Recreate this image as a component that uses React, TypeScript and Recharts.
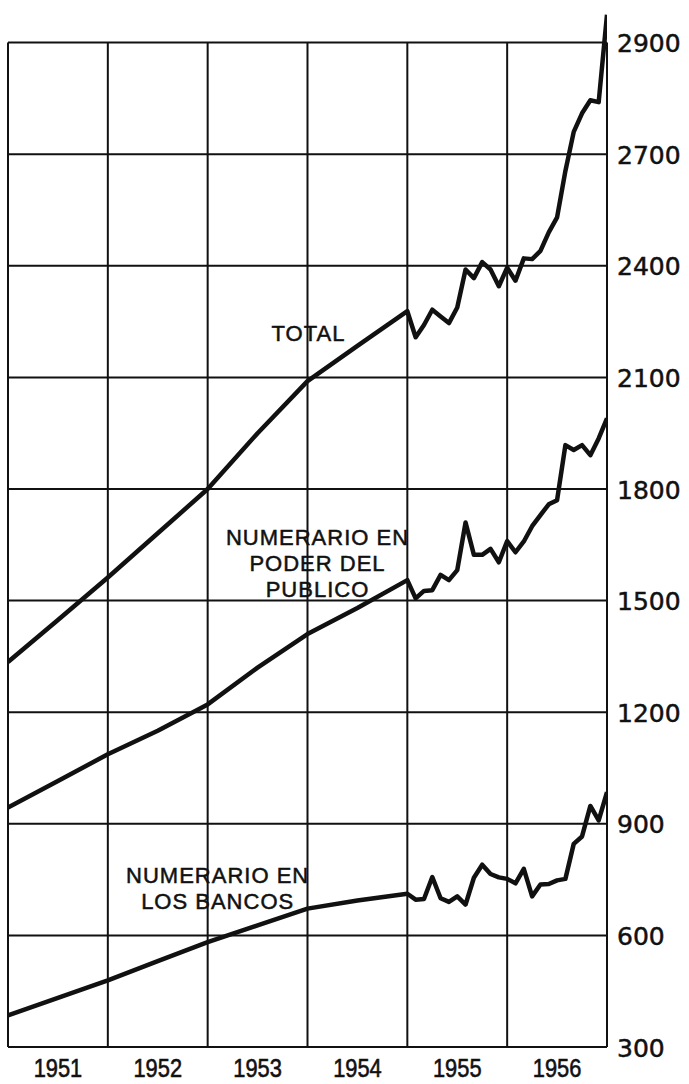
import React from 'react';
import { LineChart, Line, XAxis, YAxis, ReferenceLine, ReferenceDot } from 'recharts';

// End-of-period dates (year-month). Semiannual readings to 1954, monthly afterwards.
const periods = [
  '1950-12', '1951-06', '1951-12', '1952-06', '1952-12', '1953-06', '1953-12', '1954-06',
  '1954-12', '1955-01', '1955-02', '1955-03', '1955-04', '1955-05', '1955-06', '1955-07',
  '1955-08', '1955-09', '1955-10', '1955-11', '1955-12', '1956-01', '1956-02', '1956-03',
  '1956-04', '1956-05', '1956-06', '1956-07', '1956-08', '1956-09', '1956-10', '1956-11', '1956-12',
];

const totalValues = [
  1335, 1448, 1562, 1681, 1800, 1950, 2090, 2185,
  2278, 2208, 2241, 2282, 2264, 2246, 2288, 2390,
  2367, 2410, 2390, 2345, 2395, 2360, 2420, 2418,
  2440, 2490, 2530, 2655, 2760, 2810, 2845, 2840, 3075,
];

const publicoValues = [
  944, 1015, 1087, 1150, 1221, 1320, 1410, 1480,
  1555, 1506, 1526, 1528, 1569, 1555, 1582, 1710,
  1623, 1623, 1639, 1603, 1660, 1630, 1659, 1700,
  1730, 1759, 1770, 1918, 1905, 1918, 1891, 1936, 1990,
];

const bancosValues = [
  385, 432, 479, 531, 582, 627, 672, 694,
  712, 696, 698, 757, 700, 690, 705, 683,
  755, 790, 765, 756, 752, 740, 779, 705,
  737, 738, 748, 752, 846, 866, 948, 909, 985,
];

const yearLabels = ['1951', '1952', '1953', '1954', '1955', '1956'];
const yearBoundaries = [1951, 1952, 1953, 1954, 1955, 1956, 1957];
const yTickValues = [300, 600, 900, 1200, 1500, 1800, 2100, 2400, 2700, 3000];
const yTickLabels = ['300', '600', '900', '1200', '1500', '1800', '2100', '2400', '2700', '2900'];

const seriesNotes = [
  { x: 1954.01, y: 2219, lines: ['TOTAL'] },
  { x: 1954.1, y: 1601, lines: ['NUMERARIO EN', 'PODER DEL', 'PUBLICO'] },
  { x: 1953.1, y: 727, lines: ['NUMERARIO EN', 'LOS BANCOS'] },
];

const toTime = (p: string) => {
  const [y, m] = p.split('-').map(Number);
  return y + m / 12;
};

const data = periods.map((p, i) => ({
  t: toTime(p),
  total: totalValues[i],
  publico: publicoValues[i],
  bancos: bancosValues[i],
}));

const yearTicks = yearLabels.map((l) => Number(l) + 0.5);

const SANS = "'Liberation Sans', Arimo, Arial, sans-serif";
const INK = '#111';

const XTick = (props: any) => {
  const { x, y, payload } = props;
  const label = yearLabels[yearTicks.indexOf(payload.value)] ?? String(Math.floor(payload.value));
  return (
    <g transform={`translate(${x},${y + 21}) scale(0.84,1)`}>
      <text x={0} y={0} textAnchor="middle" dominantBaseline="central" fontFamily={SANS} fontSize={26} fill={INK} stroke={INK} strokeWidth={0.6}>
        {label}
      </text>
    </g>
  );
};

const YTick = (props: any) => {
  const { x, y, payload } = props;
  const idx = yTickValues.indexOf(payload.value);
  const label = idx >= 0 ? yTickLabels[idx] : String(payload.value);
  return (
    <text x={x + 10} y={y + 1} textAnchor="start" dominantBaseline="central" fontFamily="'DejaVu Sans', sans-serif" fontSize={25} fill={INK} stroke={INK} strokeWidth={0.5}>
      {label}
    </text>
  );
};

const NoteShape = (lines: string[]) => (props: any) => {
  const { cx, cy } = props;
  const step = 26;
  return (
    <g>
      {lines.map((ln, i) => (
        <text
          key={i}
          x={cx}
          y={cy + (i - (lines.length - 1) / 2) * step}
          textAnchor="middle"
          dominantBaseline="central"
          fontFamily={SANS}
          fontSize={22}
          letterSpacing={1}
          fill={INK}
          stroke={INK}
          strokeWidth={0.5}
        >
          {ln}
        </text>
      ))}
    </g>
  );
};

export default function App() {
  return (
    <div style={{ position: 'absolute', left: 0, top: 0, width: 689, height: 1084, background: '#fff' }}>
      <LineChart width={689} height={1084} data={data} margin={{ top: 11, right: 0, bottom: 0, left: 8 }}>
        <XAxis
          dataKey="t"
          type="number"
          domain={[1951, 1957]}
          ticks={yearTicks}
          interval={0}
          allowDataOverflow
          axisLine={false}
          tickLine={false}
          tickSize={0}
          tickMargin={0}
          height={37}
          tick={<XTick />}
        />
        <YAxis
          orientation="right"
          type="number"
          domain={[300, 3085]}
          ticks={yTickValues}
          interval={0}
          allowDataOverflow
          axisLine={false}
          tickLine={false}
          tickSize={0}
          tickMargin={0}
          width={82}
          tick={<YTick />}
        />
        {yTickValues.map((v) => (
          <ReferenceLine
            key={`h${v}`}
            segment={[{ x: 1951, y: v }, { x: 1957, y: v }]}
            stroke={INK}
            strokeWidth={2}
          />
        ))}
        {yearBoundaries.map((yr) => (
          <ReferenceLine
            key={`v${yr}`}
            segment={[{ x: yr, y: 300 }, { x: yr, y: 3000 }]}
            stroke={INK}
            strokeWidth={2}
          />
        ))}
        <Line type="linear" dataKey="total" stroke={INK} strokeWidth={4.5} dot={false} strokeLinejoin="round" isAnimationActive={false} />
        <Line type="linear" dataKey="publico" stroke={INK} strokeWidth={4.5} dot={false} strokeLinejoin="round" isAnimationActive={false} />
        <Line type="linear" dataKey="bancos" stroke={INK} strokeWidth={4.5} dot={false} strokeLinejoin="round" isAnimationActive={false} />
        {seriesNotes.map((n, i) => (
          <ReferenceDot key={i} x={n.x} y={n.y} r={0} shape={NoteShape(n.lines)} />
        ))}
      </LineChart>
    </div>
  );
}
